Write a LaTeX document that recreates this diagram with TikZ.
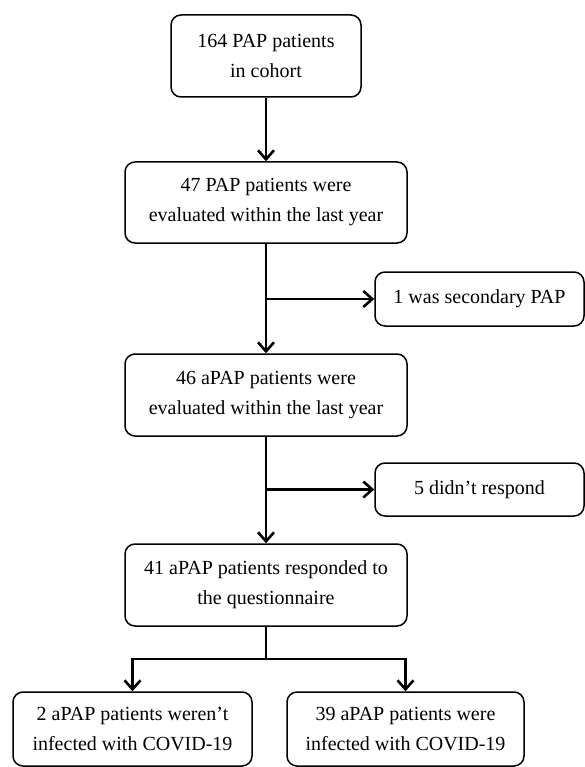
\documentclass[tikz,border=0pt]{standalone}
\usepackage{fontspec}
\setmainfont{Liberation Serif}
\usetikzlibrary{arrows.meta}
\begin{document}
\begin{tikzpicture}[x=1pt,y=-1pt,
  box/.style={draw, line width=1.5pt, rounded corners=10pt, inner sep=0pt, align=center,
    font=\fontsize{20}{30}\selectfont},
  conn/.style={line width=2.9pt},
  arr/.style={conn, -{Straight Barb[length=9pt,width=16pt,line width=2.6pt]}}]
\useasboundingbox (0,0) rectangle (585,767);
\node[box, minimum width=190pt, minimum height=82pt] (b1) at (266,56) {164 PAP patients\\in cohort};
\node[box, minimum width=282pt, minimum height=81pt] (b2) at (266,202.5) {47 PAP patients were\\evaluated within the last year};
\node[box, minimum width=209pt, minimum height=54pt] (b3) at (479.5,299) {1 was secondary PAP};
\node[box, minimum width=282pt, minimum height=82pt] (b4) at (266,395) {46 aPAP patients were\\evaluated within the last year};
\node[box, minimum width=209pt, minimum height=53pt] (b5) at (479.5,489.5) {5 didn’t respond};
\node[box, minimum width=282pt, minimum height=82pt] (b6) at (266,585) {41 aPAP patients responded to\\the questionnaire};
\node[box, minimum width=239pt, minimum height=74pt] (b7) at (132.5,729) {2 aPAP patients weren’t\\infected with COVID-19};
\node[box, minimum width=237pt, minimum height=74pt] (b8) at (405.5,729) {39 aPAP patients were\\infected with COVID-19};
\draw[arr] (b1) -- (b2);
\draw[arr] (b2) -- (b4);
\draw[arr] (b2.south |- b3.west) -- (b3.west);
\draw[arr] (b4) -- (b6);
\draw[arr] (b4.south |- b5.west) -- (b5.west);
\coordinate (j) at (266,659);
\draw[conn] (b6.south) -- (j);
\draw[arr] (j) -| (b7.north);
\draw[arr] (j) -| (b8.north);
\end{tikzpicture}
\end{document}
